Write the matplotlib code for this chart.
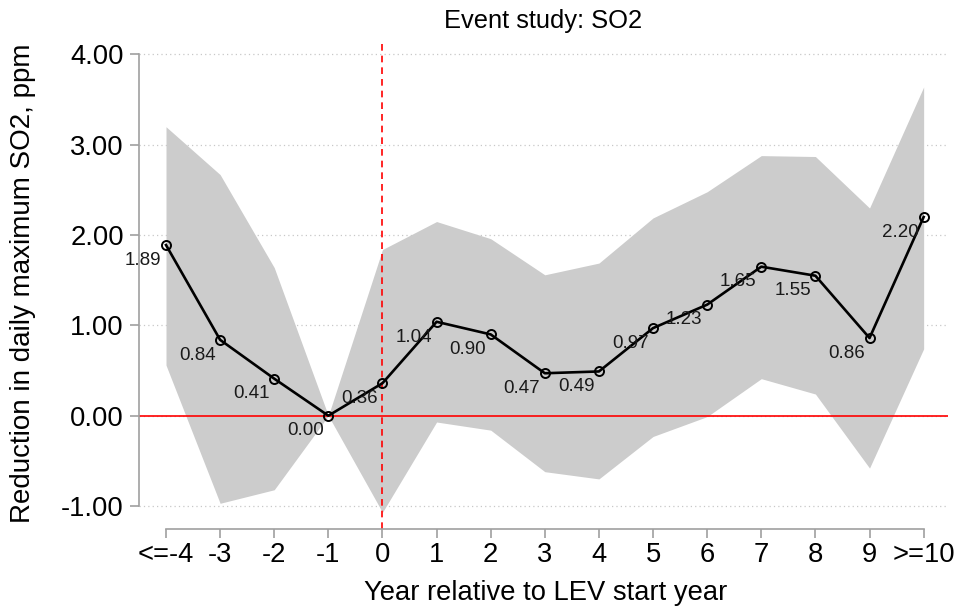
import numpy as np
import matplotlib
matplotlib.use("Agg")
import matplotlib.pyplot as plt

plt.rcParams["font.family"] = ["Liberation Sans", "DejaVu Sans"]

# =================================================
# DATA
# =================================================

years = [-4, -3, -2, -1, 0, 1, 2, 3, 4, 5, 6, 7, 8, 9, 10]
tick_labels = ["<=-4", "-3", "-2", "-1", "0", "1", "2", "3", "4",
               "5", "6", "7", "8", "9", ">=10"]

estimate = [1.89, 0.84, 0.41, 0.00, 0.36, 1.04, 0.90, 0.47, 0.49,
            0.97, 1.23, 1.65, 1.55, 0.86, 2.20]

ci_upper = [3.20, 2.67, 1.64, 0.00, 1.84, 2.15, 1.96, 1.56, 1.69,
            2.19, 2.48, 2.88, 2.87, 2.30, 3.64]
ci_lower = [0.56, -0.97, -0.82, 0.00, -1.07, -0.07, -0.16, -0.62, -0.70,
            -0.23, -0.01, 0.41, 0.24, -0.58, 0.74]

y_ticks = [-1, 0, 1, 2, 3, 4]

# =================================================
# FIGURE
# =================================================

fig = plt.figure(figsize=(9.59, 6.08), dpi=100)
ax = fig.add_axes([139 / 959, 78.7 / 608, 809 / 959, 490 / 608])

axis_gray = "#a0a0a0"

# confidence band
ax.fill_between(years, ci_lower, ci_upper, color="#cccccc", linewidth=0, zorder=1)

# reference lines
ax.axhline(0, color="#ff0000", linewidth=1.2, zorder=2)
ax.axvline(0, color="#ff0000", linewidth=1.2, linestyle=(0, (4, 3)), zorder=2)

# point estimates
ax.plot(years, estimate, color="black", linewidth=1.9, marker="o",
        markersize=6.5, markerfacecolor="none", markeredgecolor="black",
        markeredgewidth=1.4, zorder=4)

for x, y in zip(years, estimate):
    ax.annotate(f"{y:.2f}", (x, y), xytext=(-16.5, -11), textcoords="offset points",
                ha="center", va="center", fontsize=13.5, color="#1a1a1a", zorder=5)

# grid (dotted, y only)
for yt in y_ticks:
    ax.axhline(yt, color="#c8c8c8", linewidth=0.9, linestyle=(0, (1, 2.5)), zorder=0)

ax.set_xlim(-4.499, 10.45)
ax.set_ylim(-1.258, 4.168)

ax.set_xticks(years)
ax.set_xticklabels(tick_labels)
ax.set_yticks(y_ticks)
ax.set_yticklabels([f"{v:.2f}" for v in y_ticks])

ax.tick_params(axis="both", labelsize=19.7, color=axis_gray, length=6.5,
               width=1.2, pad=3)
ax.tick_params(axis="y", pad=4.3)

for side in ["top", "right"]:
    ax.spines[side].set_visible(False)
ax.spines["left"].set_bounds(-1, 4)
ax.spines["bottom"].set_bounds(-4, 10)
ax.spines["left"].set_color(axis_gray)
ax.spines["bottom"].set_color(axis_gray)
ax.spines["left"].set_linewidth(1.2)
ax.spines["bottom"].set_linewidth(1.2)

fig.text(543.5 / 959, 1 - 28 / 608, "Event study: SO2", ha="center",
         va="baseline", fontsize=18.4)
fig.text(545.5 / 959, 8 / 608, "Year relative to LEV start year", ha="center",
         va="baseline", fontsize=19.7)
fig.text(23.5 / 959, 1 - 283.5 / 608, "Reduction in daily maximum SO2, ppm",
         rotation=90, ha="center", va="center", fontsize=20)

fig.savefig("out.png", dpi=100)
